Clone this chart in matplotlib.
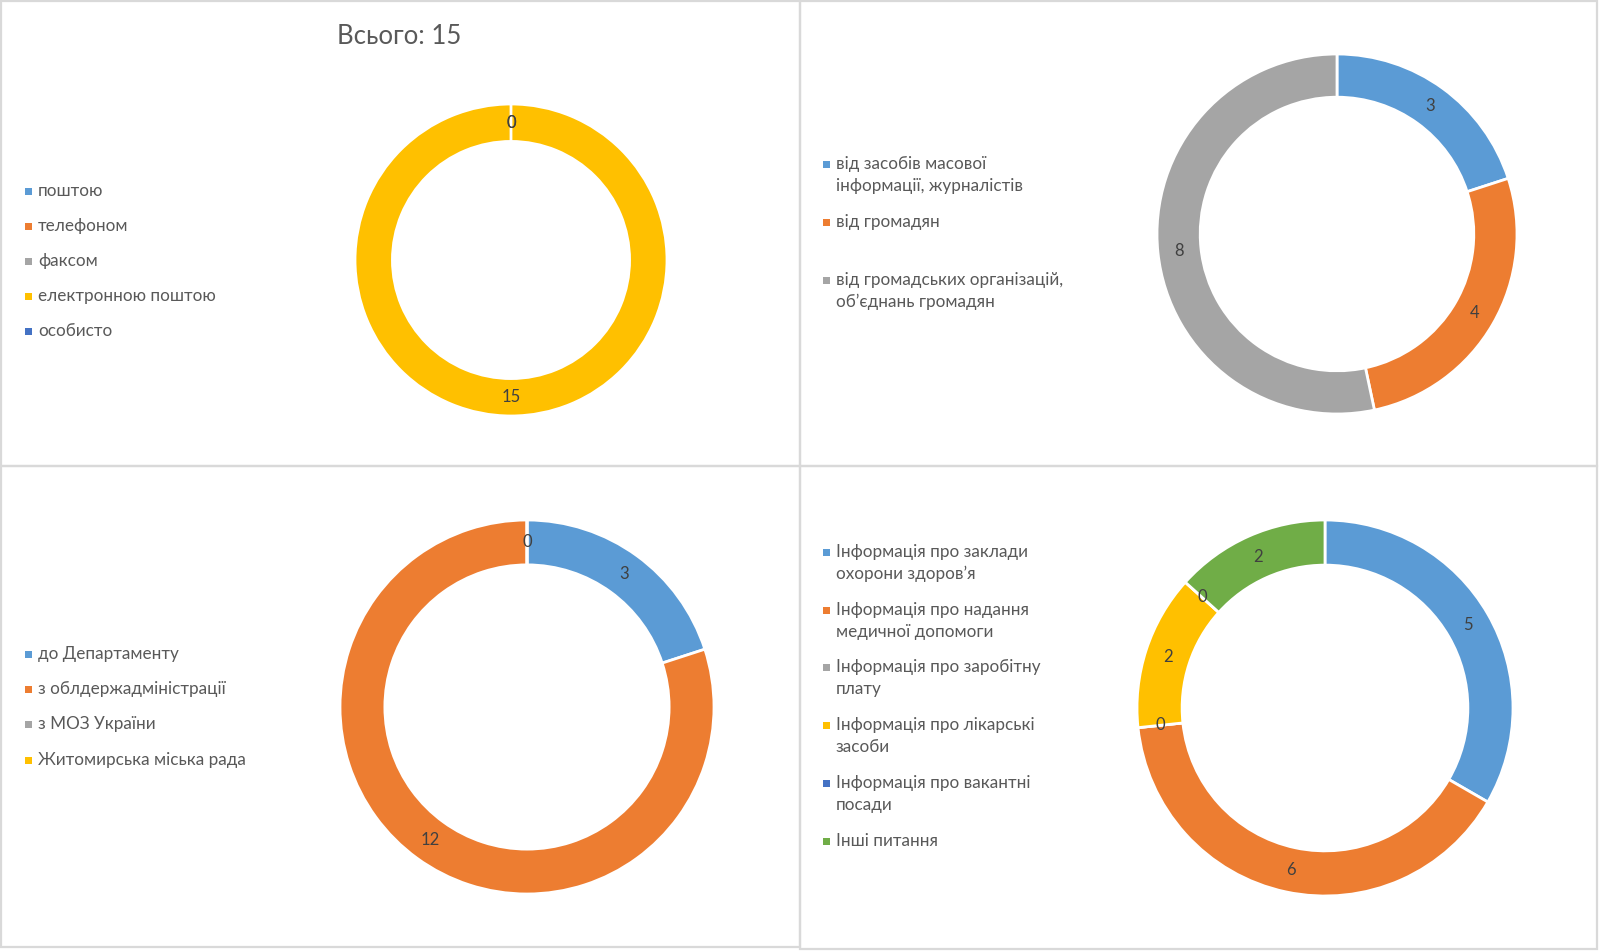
import matplotlib
matplotlib.use("Agg")
import numpy as np
import matplotlib.pyplot as plt
from matplotlib.patches import Rectangle

plt.rcParams['font.family'] = ['Lato', 'DejaVu Sans']

W, H, DPI = 1601, 951, 100

BLUE = "#5B9BD5"
ORANGE = "#ED7D31"
GRAY = "#A5A5A5"
YELLOW = "#FFC000"
DBLUE = "#4472C4"
GREEN = "#70AD47"

# --- data -------------------------------------------------------------
title_tl = "Всього: 15"
cats_tl = ["поштою", "телефоном", "факсом", "електронною поштою", "особисто"]
vals_tl = [0, 0, 0, 15, 0]

cats_tr = ["від засобів масової\nінформації, журналістів", "від громадян",
           "від громадських організацій,\nоб’єднань громадян"]
vals_tr = [3, 4, 8]

cats_bl = ["до Департаменту", "з облдержадміністрації", "з МОЗ України",
           "Житомирська міська рада"]
vals_bl = [3, 12, 0, 0]

cats_br = ["Інформація про заклади\nохорони здоров’я",
           "Інформація про надання\nмедичної допомоги",
           "Інформація про заробітну\nплату",
           "Інформація про лікарські\nзасоби",
           "Інформація про вакантні\nпосади",
           "Інші питання"]
vals_br = [5, 6, 0, 2, 0, 2]

colors5 = [BLUE, ORANGE, GRAY, YELLOW, DBLUE]
colors6 = [BLUE, ORANGE, GRAY, YELLOW, DBLUE, GREEN]

fig = plt.figure(figsize=(W / DPI, H / DPI), dpi=DPI)
bg = fig.add_axes([0, 0, 1, 1])
bg.set_xlim(0, W)
bg.set_ylim(H, 0)
bg.axis("off")

# panel frames
for x0, y0, x1, y1 in [(1, 1, 800, 466), (800, 1, 1597, 466),
                       (1, 466, 800, 947), (800, 466, 1597, 949)]:
    bg.add_patch(Rectangle((x0, y0), x1 - x0, y1 - y0, fill=False,
                           edgecolor="#D9D9D9", lw=1.6))


def donut(cx, cy, r, vals, colors):
    ax = fig.add_axes([(cx - r) / W, 1 - (cy + r) / H, 2 * r / W, 2 * r / H])
    wedges, _ = ax.pie(vals, colors=colors, startangle=90, counterclock=False,
                       radius=1, wedgeprops=dict(width=0.24, edgecolor="white",
                                                 linewidth=2))
    seen = set()
    for w, v in zip(wedges, vals):
        t = np.radians((w.theta1 + w.theta2) / 2)
        x, y = 0.88 * np.cos(t), 0.88 * np.sin(t)
        key = (round(x, 3), round(y, 3))
        if key in seen:
            continue
        seen.add(key)
        ax.text(x, y, str(v), ha="center", va="center", fontsize=12,
                color="#404040")
    ax.set_xlim(-1, 1)
    ax.set_ylim(-1, 1)
    ax.set_aspect("equal")
    ax.axis("off")


def legend(x, ys, cats, colors):
    for y, c, col in zip(ys, cats, colors):
        bg.add_patch(Rectangle((x, y - 3.5), 7, 7, color=col, lw=0))
        bg.text(x + 13, y - 8, c, fontsize=12.3, color="#595959", va="top",
                ha="left", linespacing=1.45)


donut(511, 260, 156, vals_tl, colors5)
donut(1337, 234, 180, vals_tr, colors5[:3])
donut(527, 707, 187, vals_bl, colors5[:4])
donut(1325, 708, 188, vals_br, colors6)

bg.text(399, 36, title_tl, fontsize=18.5, color="#595959", ha="center",
        va="center")

legend(25, [191, 226, 261, 296, 331], cats_tl, colors5)
legend(823, [164, 222, 280], cats_tr, colors5[:3])
legend(25, [654, 689, 724, 760], cats_bl, colors5[:4])
legend(823, [552, 610, 667, 725, 783, 841], cats_br, colors6)

fig.savefig("out.png", dpi=DPI)
